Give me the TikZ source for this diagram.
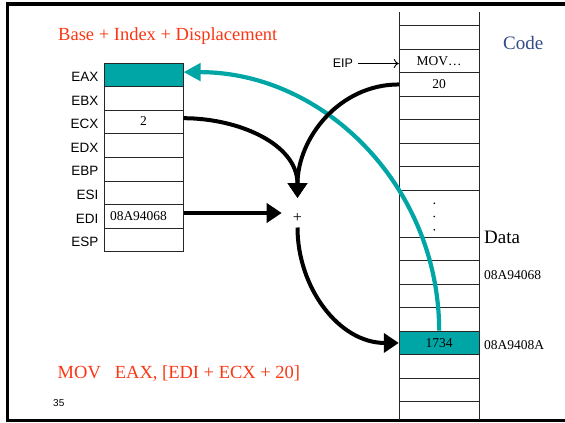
\documentclass[tikz,border=0pt]{standalone}
\usepackage{fontspec}
\setmainfont{Liberation Serif}
\newfontfamily\arialf{Liberation Sans}
\usetikzlibrary{arrows.meta}
\definecolor{tealc}{RGB}{0,166,166}
\definecolor{redt}{RGB}{250,55,20}
\definecolor{codeblue}{RGB}{50,72,140}
\tikzset{
  reg/.style={draw=black!85, line width=1pt, minimum width=79pt, minimum height=23.55pt, inner sep=0pt, font=\fontsize{13.5}{14}\selectfont},
  mem/.style={draw=black!85, line width=1pt, minimum width=79.7pt, minimum height=23.5pt, inner sep=0pt, font=\fontsize{13.5}{14}\selectfont},
  rlab/.style={anchor=base east, inner sep=0pt, font=\arialf\fontsize{13.5}{14}\selectfont},
  side/.style={anchor=base west, inner sep=0pt, font=\fontsize{13.5}{14}\selectfont},
  bigarrow/.style={line width=4pt, -{Triangle[length=15pt,width=19pt]}},
  tealarrow/.style={draw=tealc, line width=4.2pt, -{Triangle[length=17pt,width=17pt]}},
  thinarrow/.style={line width=0.9pt, -{To[length=5pt,width=9pt]}},
  redtext/.style={anchor=base west, inner sep=0pt, text=redt, font=\fontsize{18.5}{20}\selectfont}
}
\begin{document}
\begin{tikzpicture}[x=1pt,y=1pt]
\useasboundingbox (0,0) rectangle (565,-423);
% frame
\draw[line width=3.5pt] (590,-420.5) -- (7.5,-420.5) -- (7.5,-4) -- (590,-4);

% titles
\node[redtext] (title) at (58,-40) {Base + Index + Displacement};
\node[redtext] (instr) at (57.5,-378) {MOV\hspace{14pt}EAX, [EDI + ECX + 20]};
\node[anchor=base west, inner sep=0pt, font=\arialf\fontsize{10}{12}\selectfont] (pg) at (53,-406.7) {35};

% registers
\node[reg, fill=tealc] (eax) at (143.5,-75.1) {};
\node[reg] (ebx) at (143.5,-98.65) {};
\node[reg] (ecx) at (143.5,-122.2) {\raisebox{2.5pt}{2}};
\node[reg] (edx) at (143.5,-145.75) {};
\node[reg] (ebp) at (143.5,-169.3) {};
\node[reg] (esi) at (143.5,-192.85) {};
\node[reg, text width=67pt, inner xsep=6pt, align=left] (edi) at (143.5,-216.4) {08A94068};
\node[reg] (esp) at (143.5,-239.95) {};
\foreach \n/\t in {eax/EAX,ebx/EBX,ecx/ECX,edx/EDX,ebp/EBP,esi/ESI,edi/EDI,esp/ESP}
  \node[rlab] (l\n) at ([xshift=-5pt,yshift=-6.6pt]\n.west) {\t};

% memory column
\draw[line width=1pt, draw=black!85] (399.3,-12) -- (399.3,-420);
\draw[line width=1pt, draw=black!85] (479,-12) -- (479,-420);
\foreach \i/\y in {0/37.45,3/107.95,4/131.45,5/154.95,6/178.45,8/248.95,9/272.45,10/295.95,11/319.45,13/366.45,14/389.95}
  \node[mem] (m\i) at (439.15,-\y) {};
\node[mem] (mov) at (439.15,-60.95) {MOV\ldots};
\node[mem] (c20) at (439.15,-84.45) {20};
\node[mem, minimum height=47pt] (dots) at (439.15,-213.7) {};
\node[mem, fill=tealc] (m1734) at (439.15,-342.95) {1734};
\foreach \yy in {203.3,216.5,229.8}
  \fill (434.3,-\yy) circle (0.9pt);

% side labels
\node[anchor=base west, inner sep=0pt, text=codeblue, font=\fontsize{19}{20}\selectfont] (code) at (503,-49.3) {Code};
\node[anchor=base west, inner sep=0pt, font=\fontsize{19}{20}\selectfont] (data) at (484,-243) {Data};
\node[side] (a1) at (484,-279) {08A94068};
\node[side] (a2) at (484,-349) {08A9408A};

% EIP
\node[anchor=base west, inner sep=0pt, font=\arialf\fontsize{12.5}{14}\selectfont] (eip) at (332.7,-67.3) {EIP};
\draw[thinarrow] ([xshift=5pt,yshift=-0.5pt]eip.east) -- ([yshift=-0.5pt]eip.east -| mov.west);

% adder
\node[inner sep=0pt, font=\fontsize{16}{16}\selectfont] (plus) at (297.5,-218) {+};
\coordinate (ptop) at (297.5,-198);
\coordinate (pbot) at (297.5,-227.5);
\coordinate (pleft) at (281.7,-213);

% arrows
\draw[tealarrow] (m1734.north) to[out=90,in=0] ([yshift=3pt]eax.east);
\draw[bigarrow] ([yshift=4pt]ecx.east) to[out=0,in=90] (ptop);
\draw[bigarrow] (c20.west) to[out=180,in=90] (ptop);
\draw[bigarrow] ([yshift=3.4pt]edi.east) -- (pleft);
\draw[bigarrow] (pbot) to[out=-90,in=180] (m1734.west);
\end{tikzpicture}
\end{document}
